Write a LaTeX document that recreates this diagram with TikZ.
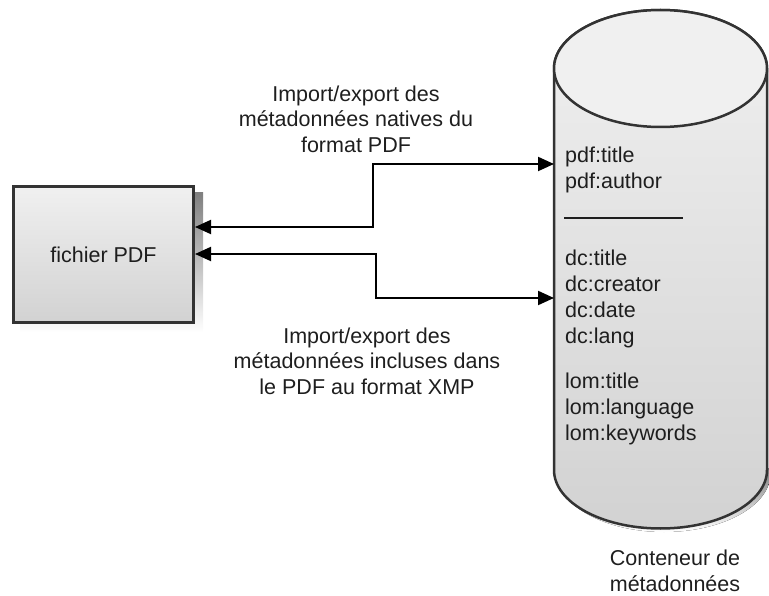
\documentclass[tikz,border=0pt]{standalone}
\usepackage{fontspec}
\setmainfont{Liberation Sans}
\usetikzlibrary{arrows.meta}

\definecolor{ink}{HTML}{1E1E1E}
\definecolor{edge}{HTML}{333333}
\definecolor{shade}{HTML}{B4B4B4}
\definecolor{filltop}{HTML}{F0F0F0}
\definecolor{fillbot}{HTML}{D2D2D2}

\tikzset{
  label text/.style={font=\fontsize{21.5}{25.6}\selectfont, text=ink, inner sep=0pt},
  filebox/.style={draw=edge, line width=3pt, top color=filltop, bottom color=fillbot,
    minimum width=180pt, minimum height=136pt, inner sep=0pt,
    font=\fontsize{21.5}{25.6}\selectfont, text=ink},
  field/.style={label text, anchor=base west},
  link/.style={draw=black, line width=2pt,
    {Triangle[length=16pt,width=14pt]}-{Triangle[length=16pt,width=14pt]}},
  rim/.style={x radius=106.5pt, y radius=58.5pt},
}

\begin{document}
\begin{tikzpicture}[x=1pt, y=-1pt]
  \useasboundingbox (0,0) rectangle (769,596);

  % PDF file box with its drop shadow
  \fill[shade] (20,193) rectangle (203,332);
  \node[filebox] (pdf) at (103.5,254.5) {fichier PDF};

  % metadata container: frame node used by the connectors
  \node[minimum width=213pt, minimum height=517pt, inner sep=0pt, outer sep=0pt]
    (store) at (660.5,268.5) {};

  % cylinder shadow, body and top ellipse (radii in pt: angles on the page)
  \fill[shade] (557.5,468) -- (557.5,473.5) arc[start angle=180, end angle=360, rim]
    -- (770.5,468) -- cycle;
  \path[draw=edge, line width=2.5pt, top color=filltop, bottom color=fillbot]
    (store.west |- 0,68.5) -- (store.west |- 0,470)
    arc[start angle=180, end angle=360, rim]
    -- (store.east |- 0,68.5)
    arc[start angle=0, end angle=180, rim] -- cycle;
  \draw[edge, line width=2.5pt, fill=filltop] (660.5,68.5) ellipse[rim];

  % metadata fields held by the container
  \node[field] (f1) at (565,163) {pdf:title};
  \node[field] (f2) at (565,189) {pdf:author};
  \coordinate (sepA) at (564,218);
  \coordinate (sepB) at (683,218);
  \draw[ink, line width=1.6pt] (sepA) -- (sepB);
  \node[field] (f3) at (565,266) {dc:title};
  \node[field] (f4) at (565,292) {dc:creator};
  \node[field] (f5) at (565,317) {dc:date};
  \node[field] (f6) at (565,343) {dc:lang};
  \node[field] (f7) at (565,388) {lom:title};
  \node[field] (f8) at (565,414) {lom:language};
  \node[field] (f9) at (565,440) {lom:keywords};

  % connectors between the file and the container
  \draw[link] (pdf.east |- 0,227) -- (373,227) -- (373,164) -- (store.west |- 0,164);
  \draw[link] (pdf.east |- 0,254) -- (376,254) -- (376,298) -- (store.west |- 0,298);

  % connector captions
  \node[label text, align=center, anchor=north] (cap1) at (356,85.5)
    {Import/export des\\métadonnées natives du\\format PDF};
  \node[label text, align=center, anchor=north] (cap2) at (367,327.5)
    {Import/export des\\métadonnées incluses dans\\le PDF au format XMP};
  \node[label text, align=center, anchor=north] (cap3) at (675,550)
    {Conteneur de\\métadonnées};
\end{tikzpicture}
\end{document}
